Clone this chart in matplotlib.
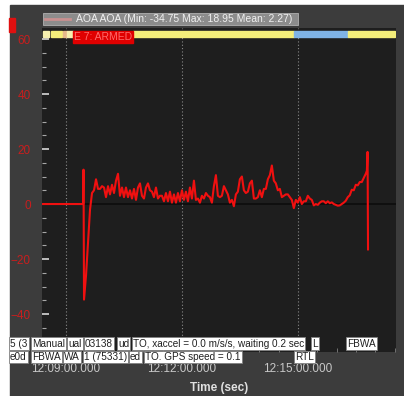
import numpy as np
import matplotlib.pyplot as plt
from matplotlib.patches import Rectangle
from matplotlib.ticker import FuncFormatter, MultipleLocator

plt.rcParams['font.family'] = ['Liberation Sans', 'DejaVu Sans']

# AOA trace, time in seconds after 12:00:00
lead_t = [503.0, 566.6, 567.2]
lead_v = [0.0, 0.0, 12.5]

aoa_t0 = 568.0
aoa_dt = 3.1
aoa = [
    -34.75, -26, -14, -2, 4, 5, 9, 5.5, 5.5, 6.5,
    6, 2.5, 6.5, 3.5, 7, 4, 8.5, 11, 3, 6,
    2.5, 6, 2.5, 5, 2, 5.5, 1.5, 6, 7.5, 3,
    2, 6, 7.5, 5, 4.5, 2.5, 6, 2, 3, 3,
    1, 4, 1, 4.5, 0.5, 3.5, 0.5, 4, 1, 5,
    1.5, 4.5, 1, 6, 2, 8.5, 1.5, 2, 0.5, 3,
    2, 4, 3, 2.5, 0.5, 6.5, 10.5, 3, 2.5, 3,
    6.5, 5, 3.5, 0.5, 1.5, -0.8, 3.5, 4.5, 9, 10,
    5, 4, 4.5, 7.5, 8.5, 2, 2, 2.5, 5, 2.5,
    5.5, 5.5, 9, 10.5, 14, 8.5, 7.5, 5, 5.5, 2.5,
    3, 3.5, 3.5, 2.5, 1.5, -1.5, 1.5, 0.5, 2.5, 0,
    1, 1, 3, 2, 1.5, -0.5, 0, -0.3, 0.5, 1,
    1, 0.3, 1, 0.3, 0.6, 0, -0.3, -0.6, -0.5, 0,
    0.5, 1.2, 2.5, 3.2, 5.2, 5, 7, 6.8, 8, 8,
    9.5, 11,
]

tail_t = [1006.8, 1007.9, 1008.6]
tail_v = [12.1, 18.95, -16.5]

# flight mode bar along the top
mode_start = [504.3, 516.7, 535.3, 541.6, 644.0, 893.9, 977.7]
mode_end = [513.6, 533.8, 541.6, 550.9, 893.9, 977.7, 1050.6]
mode_color = ['#f6f0b0', '#f4ee7a', '#e6b98a', '#f6f0b0', '#f4ee7a', '#7fb3e6', '#f4ee7a']
armed_start, armed_end = 550.9, 644.0

# message boxes under the plot
msg_row1_t = [453.1, 487.2, 543.1, 569.5, 620.7, 644.0, 921.8, 976.1]
msg_row1 = ['5 (3', 'Manual', 'ual', '03138', 'ud',
            'TO, xaccel = 0.0 m/s/s, waiting 0.2 sec', 'L', 'FBWA']
msg_row2_t = [453.1, 487.2, 536.9, 567.9, 639.3, 662.6, 895.4]
msg_row2 = ['e0d', 'FBWA', 'WA', '1 (75331)', 'ed', 'TO. GPS speed = 0.1', 'RTL']

t = np.concatenate([lead_t, aoa_t0 + aoa_dt * np.arange(len(aoa)), tail_t])
v = np.concatenate([lead_v, aoa, tail_v])

W, H = 404, 396
fig = plt.figure(figsize=(W / 100, H / 100), dpi=100, facecolor='white')
fig.add_artist(Rectangle((10 / W, 0), 1, 391 / H, transform=fig.transFigure,
                         color='#3c3c3c', zorder=-5))
fig.add_artist(Rectangle((9 / W, (H - 32) / H), 6 / W, 14 / H,
                         transform=fig.transFigure, color='#e01010', zorder=1))

ax = fig.add_axes([42 / W, (H - 352) / H, 354 / W, 324 / H])
ax.set_facecolor('#1e1e1e')
for s in ax.spines.values():
    s.set_visible(False)

ax.set_xlim(502.8, 1052)
ax.set_ylim(-53.8, 64)

ax.axhline(0, color='#0c0c0c', lw=1.2, zorder=1)
ax.plot(t, v, color='#f01010', lw=1.5, zorder=2)

ax.set_xticks([540, 720, 900])
ax.xaxis.set_minor_locator(MultipleLocator(30))
ax.xaxis.set_major_formatter(FuncFormatter(
    lambda x, p: f"{12 + int(x) // 3600:02d}:{int(x) % 3600 // 60:02d}:{int(x) % 60:02d}.000"))
ax.grid(axis='x', color='#8a8a8a', linestyle=(0, (1, 2)), lw=0.8)
ax.tick_params(axis='x', which='major', direction='in', length=0, pad=8,
               labelsize=8.5, labelcolor='#c8c8c8')
ax.tick_params(axis='x', which='minor', direction='in', length=3, color='#808080')

ax.set_yticks([-40, -20, 0, 20, 40, 60])
ax.yaxis.set_minor_locator(MultipleLocator(5))
ax.tick_params(axis='y', which='major', direction='in', length=5, width=1.2,
               color='#d8d8d8', pad=8, labelsize=8.5, labelcolor='#c81e1e')
ax.tick_params(axis='y', which='minor', direction='in', length=3, width=0.8,
               color='#a8a8a8')

ax.set_xlabel('Time (sec)', color='#e0e0e0', fontsize=8.5, fontweight='bold', labelpad=5)

# mode bar
bar = ax.get_xaxis_transform()
for a, b, c in zip(mode_start, mode_end, mode_color):
    ax.add_patch(Rectangle((a, 0.972), b - a, 0.019, transform=bar, color=c, zorder=4))
ax.add_patch(Rectangle((armed_start, 0.954), armed_end - armed_start, 0.037,
                       transform=bar, color='#e00000', zorder=5))
ax.text((armed_start + armed_end) / 2, 0.9725, 'E 7: ARMED', transform=bar,
        ha='center', va='center', fontsize=7.5, color='#ff6a6a', zorder=6)

# message rows
for row_t, row, yy in [(msg_row1_t, msg_row1, 0.026), (msg_row2_t, msg_row2, -0.0154)]:
    for i, (tt, txt) in enumerate(zip(row_t, row)):
        ax.text(tt, yy, txt, transform=bar, ha='left', va='center', fontsize=7.2,
                color='#202020', clip_on=False, zorder=6 + i * 0.01,
                bbox=dict(boxstyle='square,pad=0.12', fc='white', ec='#808080', lw=0.6))

# legend box
fig.add_artist(Rectangle((43 / W, (H - 25) / H), 255 / W, 12 / H,
                         transform=fig.transFigure, fc='#8c8c8c', ec='#b0b0b0',
                         lw=0.6, zorder=1))
fig.add_artist(plt.Line2D([45 / W, 70 / W], [(H - 19) / H] * 2,
                          transform=fig.transFigure, color='#c89090', lw=2, zorder=2))
fig.text(76 / W, (H - 19) / H, 'AOA AOA (Min: -34.75 Max: 18.95 Mean: 2.27)',
         fontsize=7.5, color='#f0f0f0', va='center', ha='left', zorder=2)

fig.savefig('out.png', dpi=100, facecolor=fig.get_facecolor())
